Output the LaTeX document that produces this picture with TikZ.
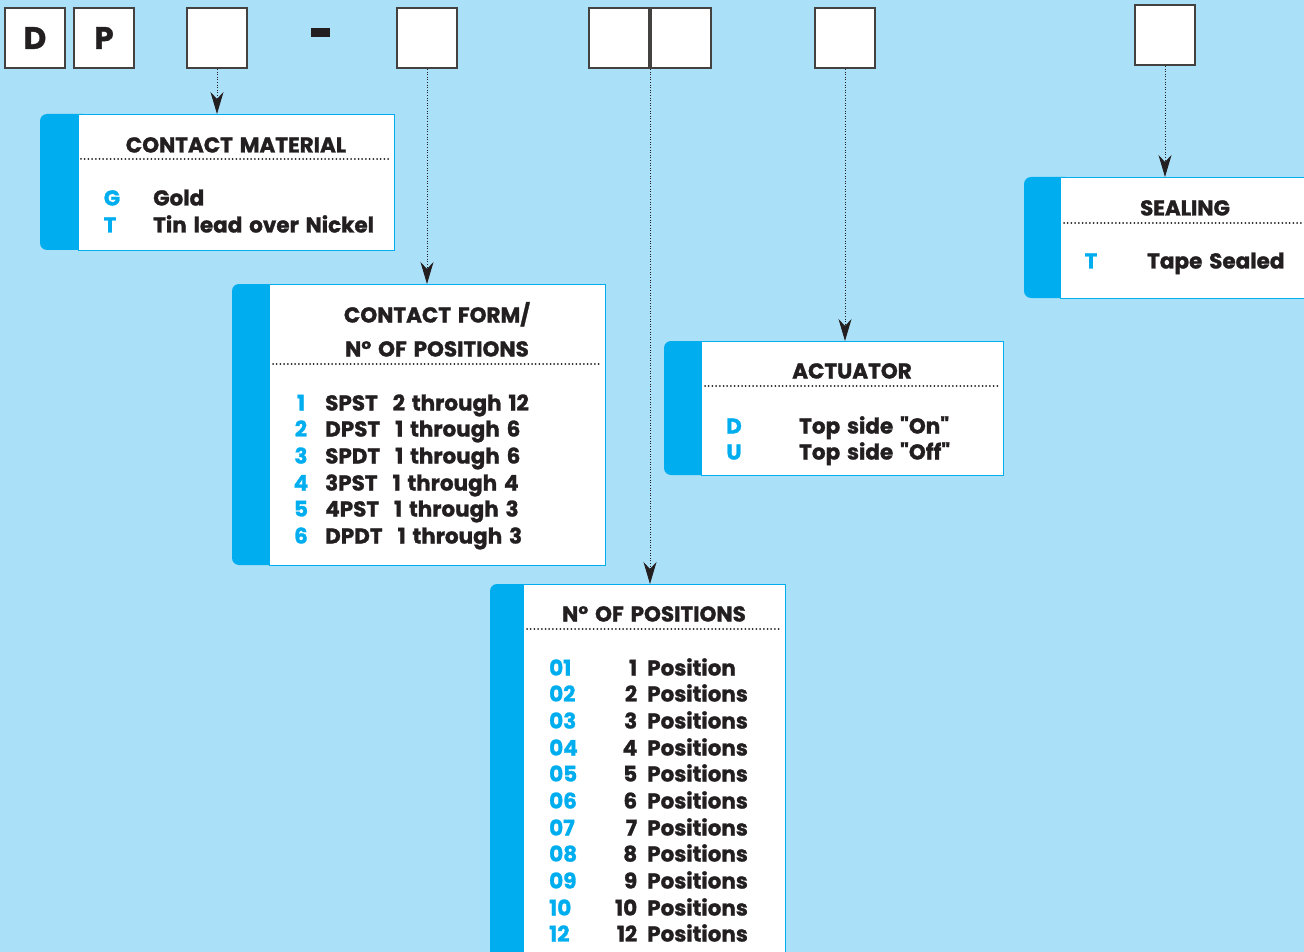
\documentclass[tikz,border=0pt]{standalone}
\usepackage{fontspec}
\setmainfont{Poppins}[WordSpace=1.5, BoldFeatures={FakeBold=1.3}]
\usetikzlibrary{arrows.meta}
\definecolor{sky}{HTML}{ABE0F9}
\definecolor{cyanblue}{HTML}{00AEEF}
\definecolor{ink}{HTML}{231F20}
\begin{document}
\begin{tikzpicture}[x=1pt, y=-1pt,
    code box/.style={draw=ink!85, line width=2pt, fill=white, minimum size=60pt,
        inner sep=0pt, font=\fontsize{31}{31}\selectfont\bfseries, text=ink},
    panel/.style={draw=cyanblue, line width=1pt, fill=white, inner sep=0pt,
        anchor=north west},
    panel tab/.style={fill=cyanblue, rounded corners=7pt},
    lead/.style={draw=ink, line width=0.9pt, dash pattern=on 1pt off 1.6pt,
        -{Stealth[length=22pt, width=13pt, inset=7pt]}},
    rule/.style={draw=ink, line width=2pt, line cap=round,
        dash pattern=on 0pt off 3.7pt},
    heading/.style={font=\fontsize{21.5}{21.5}\selectfont\bfseries, text=ink,
        inner sep=0pt, text height=15pt, text depth=0pt},
    code/.style={heading, text=cyanblue},
    entry/.style={heading, anchor=west}
]
    \path[use as bounding box] (0,0) rectangle (1304,952);
    \clip (0,0) rectangle (1304,952);
    \fill[sky] (0,0) rectangle (1304,952);

    % The part number boxes.
    \node[code box] (letterD) at (35,38) {D};
    \node[code box] (letterP) at (104,38) {P};
    \node[code box] (matbox) at (217,38) {};
    \node[fill=ink, minimum width=19pt, minimum height=9pt, inner sep=0pt]
        (dash) at (320.5,33) {};
    \node[code box] (formbox) at (427,38) {};
    \node[code box] (posboxA) at (619,38) {};
    \node[code box] (posboxB) at (681,38) {};
    \node[code box] (actbox) at (845,38) {};
    \node[code box] (sealbox) at (1165,35) {};

    % Contact material.
    \fill[panel tab] (40,114) rectangle (90,250);
    \node[panel, minimum width=316pt, minimum height=136pt] (mat) at (78,114) {};
    \node[heading] (mattitle) at (236,145) {CONTACT MATERIAL};
    \draw[rule] (81,159) -- (391,159);
    \node[code] (matG) at (112,198) {G};
    \node[code] (matT) at (110,225) {T};
    \node[entry] (matgold) at (153,198) {Gold};
    \node[entry] (mattin) at (153,225) {Tin lead over Nickel};

    % Contact form / positions.
    \fill[panel tab] (232,284) rectangle (280,565);
    \node[panel, minimum width=336pt, minimum height=281pt] (form) at (269,284) {};
    \node[heading] (formtitleA) at (437,315) {CONTACT FORM/};
    \node[heading] (formtitleB) at (437,349) {N° OF POSITIONS};
    \draw[rule] (273,364) -- (602,364);
    \node[code] (form1) at (301,403) {1};
    \node[code] (form2) at (301,429) {2};
    \node[code] (form3) at (301,456) {3};
    \node[code] (form4) at (301,483) {4};
    \node[code] (form5) at (301,509) {5};
    \node[code] (form6) at (301,536) {6};
    \node[entry] (formspst) at (325,403) {SPST\hspace{0.7em}2 through 12};
    \node[entry] (formdpst) at (325,429) {DPST\hspace{0.7em}1 through 6};
    \node[entry] (formspdt) at (325,456) {SPDT\hspace{0.7em}1 through 6};
    \node[entry] (form3pst) at (325,483) {3PST\hspace{0.7em}1 through 4};
    \node[entry] (form4pst) at (325,509) {4PST\hspace{0.7em}1 through 3};
    \node[entry] (formdpdt) at (325,536) {DPDT\hspace{0.7em}1 through 3};

    % Actuator.
    \fill[panel tab] (664,341) rectangle (712,475);
    \node[panel, minimum width=302pt, minimum height=134pt] (act) at (701,341) {};
    \node[heading] (acttitle) at (852,371) {ACTUATOR};
    \draw[rule] (705,386) -- (1000,386);
    \node[code] (actD) at (734,426) {D};
    \node[code] (actU) at (734,452) {U};
    \node[entry] (acton) at (799,426) {Top side \textquotedbl On\textquotedbl};
    \node[entry] (actoff) at (799,452) {Top side \textquotedbl Off\textquotedbl};

    % Sealing.
    \fill[panel tab] (1024,177) rectangle (1072,298);
    \node[panel, minimum width=270pt, minimum height=121pt] (seal) at (1060,177) {};
    \node[heading] (sealtitle) at (1185,208) {SEALING};
    \draw[rule] (1064,223) -- (1304,223);
    \node[code] (sealT) at (1091,261) {T};
    \node[entry] (sealtape) at (1147,261) {Tape Sealed};

    % Number of positions.
    \fill[panel tab] (490,584) rectangle (535,980);
    \node[panel, minimum width=262pt, minimum height=396pt] (npos) at (523,584) {};
    \node[heading] (npostitle) at (654,614) {N° OF POSITIONS};
    \draw[rule] (527,629) -- (782,629);
    \node[code, anchor=west] (pos01) at (549,668) {01};
    \node[code, anchor=west] (pos02) at (549,694) {02};
    \node[code, anchor=west] (pos03) at (549,721) {03};
    \node[code, anchor=west] (pos04) at (549,748) {04};
    \node[code, anchor=west] (pos05) at (549,774) {05};
    \node[code, anchor=west] (pos06) at (549,801) {06};
    \node[code, anchor=west] (pos07) at (549,828) {07};
    \node[code, anchor=west] (pos08) at (549,854) {08};
    \node[code, anchor=west] (pos09) at (549,881) {09};
    \node[code, anchor=west] (pos10) at (549,908) {10};
    \node[code, anchor=west] (pos12) at (549,934) {12};
    \node[entry] (npos1) at (599,668) {\makebox[38pt][r]{1}\hspace{10pt}Position};
    \node[entry] (npos2) at (599,694) {\makebox[38pt][r]{2}\hspace{10pt}Positions};
    \node[entry] (npos3) at (599,721) {\makebox[38pt][r]{3}\hspace{10pt}Positions};
    \node[entry] (npos4) at (599,748) {\makebox[38pt][r]{4}\hspace{10pt}Positions};
    \node[entry] (npos5) at (599,774) {\makebox[38pt][r]{5}\hspace{10pt}Positions};
    \node[entry] (npos6) at (599,801) {\makebox[38pt][r]{6}\hspace{10pt}Positions};
    \node[entry] (npos7) at (599,828) {\makebox[38pt][r]{7}\hspace{10pt}Positions};
    \node[entry] (npos8) at (599,854) {\makebox[38pt][r]{8}\hspace{10pt}Positions};
    \node[entry] (npos9) at (599,881) {\makebox[38pt][r]{9}\hspace{10pt}Positions};
    \node[entry] (npos10) at (599,908) {\makebox[38pt][r]{10}\hspace{10pt}Positions};
    \node[entry] (npos12) at (599,934) {\makebox[38pt][r]{12}\hspace{10pt}Positions};

    % Leads from the boxes down to their tables.
    \draw[lead] (matbox.south) -- (matbox.south |- mat.north);
    \draw[lead] (formbox.south) -- (formbox.south |- form.north);
    \draw[lead] (posboxA.south east) -- (posboxA.south east |- npos.north);
    \draw[lead] (actbox.south) -- (actbox.south |- act.north);
    \draw[lead] (sealbox.south) -- (sealbox.south |- seal.north);
\end{tikzpicture}
\end{document}
